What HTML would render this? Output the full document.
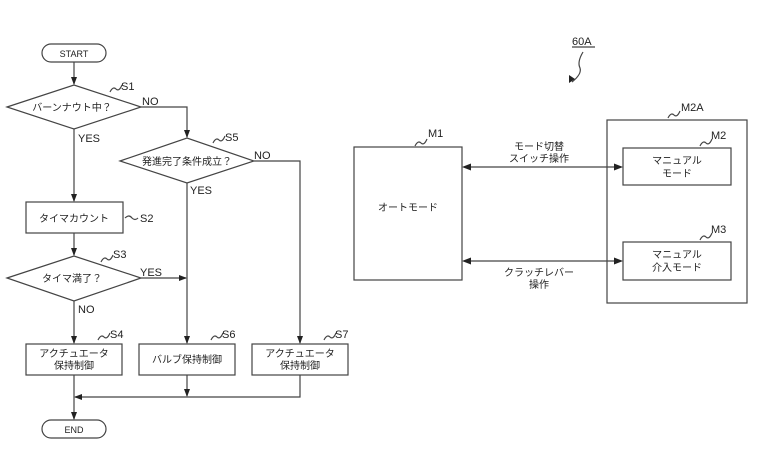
<!DOCTYPE html>
<html><head><meta charset="utf-8"><style>
html,body{margin:0;padding:0;background:#fff;}
svg{display:block;}
text{font-family:"Liberation Sans","Noto Sans CJK JP",sans-serif;fill:#222;}
.j{font-size:10px;}
.l{font-size:11px;}
</style></head><body>
<svg width="768" height="468" viewBox="0 0 768 468" xmlns="http://www.w3.org/2000/svg">
<defs><marker id="a" markerWidth="8" markerHeight="8" refX="7" refY="4" orient="auto" markerUnits="userSpaceOnUse"><path d="M0,1 L8,4 L0,7 z" fill="#222"/></marker></defs>
<g stroke="#444" stroke-width="1.2" fill="none">
<rect x="42" y="44" width="64" height="18" rx="9"/>
<rect x="42" y="420" width="64" height="18" rx="9"/>
<polygon points="7,107 74,85 141,107 74,129"/>
<polygon points="120,161 187,138 254,161 187,183"/>
<polygon points="7,278 74,256 141,278 74,301"/>
<rect x="26" y="202" width="97" height="31"/>
<rect x="26" y="344" width="96" height="31"/>
<rect x="139" y="344" width="96" height="31"/>
<rect x="252" y="344" width="96" height="31"/>
<line x1="74" y1="62" x2="74" y2="84" marker-end="url(#a)"/>
<line x1="74" y1="129" x2="74" y2="201" marker-end="url(#a)"/>
<line x1="74" y1="233" x2="74" y2="255" marker-end="url(#a)"/>
<line x1="74" y1="301" x2="74" y2="343" marker-end="url(#a)"/>
<line x1="74" y1="375" x2="74" y2="419" marker-end="url(#a)"/>
<polyline points="141,107 187,107 187,137" marker-end="url(#a)"/>
<polyline points="254,161 300,161 300,343" marker-end="url(#a)"/>
<line x1="187" y1="183" x2="187" y2="343" marker-end="url(#a)"/>
<line x1="141" y1="278" x2="186" y2="278" marker-end="url(#a)"/>
<line x1="187" y1="375" x2="187" y2="396" marker-end="url(#a)"/>
<polyline points="300,375 300,397 75,397" marker-end="url(#a)"/>
<path d="M110,92 q3,-6 6,-3 q3,3 6,-4"/>
<path d="M213,143 q3,-6 6,-3 q3,3 6,-4"/>
<path d="M125,218 q4,-4 7,0 q3,3 6,0"/>
<path d="M101,262 q3,-6 6,-3 q3,3 6,-4"/>
<path d="M98,340 q3,-6 6,-3 q3,3 6,-4"/>
<path d="M211,340 q3,-6 6,-3 q3,3 6,-4"/>
<path d="M324,340 q3,-6 6,-3 q3,3 6,-4"/>
<rect x="354" y="147" width="108" height="133"/>
<rect x="607" y="120" width="140" height="183"/>
<rect x="623" y="148" width="108" height="37"/>
<rect x="623" y="242" width="108" height="38"/>
<line x1="470" y1="167" x2="615" y2="167"/>
<line x1="470" y1="261" x2="615" y2="261"/>
<path d="M415,146 q3,-6 6,-3 q3,3 6,-4"/>
<path d="M668,118 q3,-6 6,-3 q3,3 6,-4"/>
<path d="M700,146 q3,-6 6,-3 q3,3 6,-4"/>
<path d="M700,240 q3,-6 6,-3 q3,3 6,-4"/>
<path d="M583,52 q-6,10 -3,16 q2,6 -8,14"/>
<line x1="572" y1="47" x2="595" y2="47"/>
</g>
<g fill="#222">
<path d="M462,167 L471,163.5 L471,170.5 z"/><path d="M623,167 L614,163.5 L614,170.5 z"/>
<path d="M462,261 L471,257.5 L471,264.5 z"/><path d="M623,261 L614,257.5 L614,264.5 z"/>
<path d="M569,83 L569,75 L575,79 z"/>
</g>
<g class="l">
<text x="74" y="57" text-anchor="middle" font-size="9">START</text>
<text x="74" y="433" text-anchor="middle" font-size="9">END</text>
<text x="121" y="90">S1</text><text x="225" y="141">S5</text><text x="140" y="222">S2</text>
<text x="113" y="258">S3</text><text x="110" y="338">S4</text><text x="222" y="338">S6</text><text x="335" y="338">S7</text>
<text x="142" y="105">NO</text><text x="254" y="159">NO</text>
<text x="78" y="142">YES</text><text x="190" y="194">YES</text>
<text x="140" y="276">YES</text><text x="78" y="313">NO</text>
<text x="572" y="45">60A</text>
<text x="428" y="137">M1</text><text x="681" y="111">M2A</text>
<text x="711" y="139">M2</text><text x="711" y="233">M3</text>
</g>
<g class="j" text-anchor="middle">
<text x="72" y="111">バーンナウト中？</text>
<text x="187" y="165">発進完了条件成立？</text>
<text x="74" y="222">タイマカウント</text>
<text x="72" y="282">タイマ満了？</text>
<text x="74" y="357">アクチュエータ</text><text x="74" y="369">保持制御</text>
<text x="187" y="363">バルブ保持制御</text>
<text x="300" y="357">アクチュエータ</text><text x="300" y="369">保持制御</text>
<text x="408" y="211">オートモード</text>
<text x="539" y="150">モード切替</text><text x="539" y="162">スイッチ操作</text>
<text x="539" y="276">クラッチレバー</text><text x="539" y="288">操作</text>
<text x="677" y="164">マニュアル</text><text x="677" y="177">モード</text>
<text x="677" y="258">マニュアル</text><text x="677" y="271">介入モード</text>
</g>
</svg>
</body></html>
